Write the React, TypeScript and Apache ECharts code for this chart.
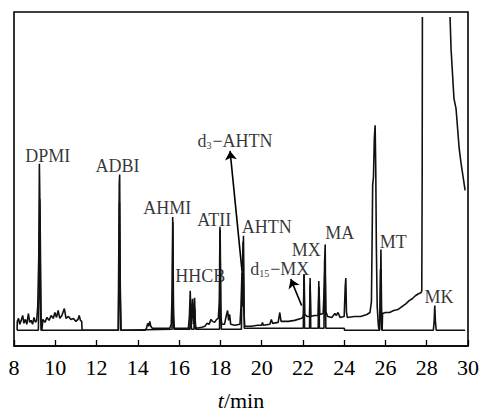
import React, { useEffect, useRef } from "react";
import * as echarts from "echarts";

// retention time (min) range and ticks
const X_MIN = 8;
const X_MAX = 30;
const X_STEP = 2;
const Y_MAX = 339;

// lower trace (standard), [t, response]
const traceA: [number, number][] = [
  [8.15, 16], [9.18, 16], [9.22, 60], [9.25, 149], [9.28, 60], [9.31, 16],
  [13.06, 16], [13.09, 80], [13.11, 146], [13.14, 60], [13.17, 16],
  [15.66, 17], [15.69, 131], [15.72, 40], [15.75, 17],
  [16.52, 17], [16.56, 40], [16.6, 17], [16.72, 17], [16.76, 38], [16.8, 17],
  [17.96, 17], [17.99, 118], [18.02, 40], [18.05, 17],
  [19.02, 17], [19.05, 74], [19.08, 40], [19.12, 112], [19.16, 18],
  [22.02, 18], [22.05, 73], [22.08, 18], [22.32, 18], [22.35, 69], [22.38, 18],
  [22.74, 18], [22.77, 66], [22.8, 18], [23.02, 18], [23.05, 85], [23.08, 103], [23.11, 18],
  [24.0, 18], [24.02, 16],
  [25.72, 16], [25.76, 78], [25.8, 30], [25.83, 16],
  [28.32, 16], [28.36, 25], [28.39, 41], [28.42, 25], [28.46, 16], [29.86, 16],
];

// upper trace (sample), [t, response]; null = off scale
const traceB: [number, number | null][] = [
  [8.15, 16], [8.16, 25], [8.22, 28], [8.28, 22], [8.35, 26], [8.42, 31], [8.48, 23], [8.55, 27],
  [8.62, 22], [8.7, 33], [8.76, 24], [8.83, 26], [8.9, 22], [8.97, 29], [9.04, 24], [9.1, 26],
  [9.15, 40], [9.2, 90], [9.23, 185], [9.27, 120], [9.31, 30], [9.35, 16],
  [9.38, 16], [9.4, 27], [9.5, 24], [9.6, 29], [9.7, 26], [9.8, 31], [9.9, 28], [9.98, 34],
  [10.06, 29], [10.14, 36], [10.22, 28], [10.32, 31], [10.44, 38], [10.52, 28], [10.64, 30],
  [10.76, 27], [10.88, 28], [11.0, 25], [11.1, 27], [11.16, 31], [11.22, 26], [11.28, 25], [11.3, 16],
  [12.5, 16], [13.05, 16], [13.08, 100], [13.1, 164], [13.12, 174], [13.15, 60], [13.19, 16],
  [14.35, 16], [14.42, 18], [14.48, 23], [14.53, 20], [14.58, 25], [14.63, 20], [14.7, 18],
  [15.55, 18], [15.62, 22], [15.67, 60], [15.7, 126], [15.73, 30], [15.77, 18],
  [16.45, 18], [16.5, 30], [16.54, 56], [16.58, 22], [16.62, 35], [16.65, 48], [16.69, 22],
  [16.72, 30], [16.75, 49], [16.79, 20], [16.85, 18],
  [17.1, 19], [17.25, 20], [17.35, 23], [17.45, 22], [17.55, 27], [17.62, 25], [17.72, 24],
  [17.82, 27], [17.9, 28], [17.95, 45], [17.98, 121], [18.02, 30], [18.07, 22],
  [18.2, 22], [18.28, 30], [18.35, 36], [18.4, 26], [18.45, 32], [18.5, 22], [18.7, 21],
  [18.95, 22], [19.0, 40], [19.04, 70], [19.07, 80], [19.1, 106], [19.13, 40], [19.18, 20],
  [19.5, 20], [19.8, 21], [20.0, 21], [20.04, 24], [20.08, 21], [20.4, 22], [20.47, 27],
  [20.53, 23], [20.8, 24], [20.88, 34], [20.94, 25], [21.3, 25], [21.6, 26], [21.9, 28], [22.0, 29],
  [22.03, 32], [22.06, 72], [22.09, 32], [22.2, 30], [22.32, 30], [22.35, 62], [22.38, 30],
  [22.55, 31], [22.74, 31], [22.78, 60], [22.82, 32], [22.98, 33], [23.04, 62], [23.07, 85],
  [23.11, 35], [23.2, 30], [23.4, 29], [23.55, 33], [23.62, 31], [23.7, 34], [23.8, 29],
  [24.0, 30], [24.05, 60], [24.08, 69], [24.11, 35], [24.15, 29], [24.5, 30], [24.8, 30],
  [25.1, 32], [25.25, 34], [25.32, 45], [25.36, 120], [25.38, 163], [25.42, 172], [25.46, 210],
  [25.5, 224], [25.53, 180], [25.56, 100], [25.6, 40], [25.66, 20], [25.7, 16], [25.75, 40],
  [25.78, 98], [25.81, 40], [25.84, 16], [25.86, 33],
  [26.0, 34], [26.2, 34], [26.4, 36], [26.6, 37], [26.8, 40], [27.0, 43], [27.15, 46],
  [27.3, 48], [27.45, 51], [27.6, 53], [27.72, 54], [27.76, 56], [27.78, 176], [27.79, 334],
  [27.8, null],
  [29.13, 334], [29.18, 301], [29.32, 251], [29.42, 241], [29.57, 201], [29.66, 186], [29.86, 158],
];

// peak annotations: text, t, response at label centre
const labelTexts = ["DPMI", "ADBI", "AHMI", "HHCB", "ATII", "AHTN", "{a|d}{s|3}{a|−AHTN}", "MX", "{a|d}{s|15}{a|−MX}", "MA", "MT", "MK"];
const labelT = [9.64, 13.02, 15.43, 17.02, 17.7, 20.25, 18.71, 22.16, 20.88, 23.78, 26.38, 28.6];
const labelV = [193, 183, 140, 71, 128, 121, 208, 97, 78, 115, 106, 50];

// arrows: [from, to] in [t, response]
const arrowLines: [number, number][][] = [
  [[19.05, 76], [18.47, 198]],
  [[21.94, 41], [21.41, 68]],
];
// thin leader line for MA
const leaderLines: [number, number][][] = [[[23.07, 103], [23.07, 85]]];

const SERIF = "'Liberation Serif', 'Times New Roman', serif";

export default function App() {
  const ref = useRef<HTMLDivElement>(null);
  useEffect(() => {
    if (!ref.current) return;
    const chart = echarts.init(ref.current, undefined, { renderer: "svg" });
    const labelData = labelTexts.map((txt, i) => ({
      value: [labelT[i], labelV[i]],
      label: { formatter: txt },
    }));
    chart.setOption({
      animation: false,
      grid: {
        left: 14,
        right: 12,
        top: 12,
        bottom: 65,
        show: true,
        borderColor: "#000",
        borderWidth: 1.6,
        backgroundColor: "transparent",
      },
      xAxis: {
        type: "value",
        min: X_MIN,
        max: X_MAX,
        interval: X_STEP,
        splitLine: { show: false },
        axisLine: { show: true, lineStyle: { color: "#000", width: 1.6 } },
        axisTick: { show: true, inside: true, length: 6, lineStyle: { color: "#000", width: 1.3 } },
        axisLabel: { color: "#000", fontSize: 22, fontFamily: SERIF, margin: 10 },
        name: "{i|t}{n|/min}",
        nameLocation: "middle",
        nameGap: 43,
        nameTextStyle: {
          rich: {
            i: { fontStyle: "italic", fontFamily: SERIF, fontSize: 22, color: "#000" },
            n: { fontFamily: SERIF, fontSize: 22, color: "#000" },
          },
        },
      },
      yAxis: {
        type: "value",
        min: 0,
        max: Y_MAX,
        show: false,
        splitLine: { show: false },
      },
      series: [
        {
          type: "line",
          data: traceA,
          showSymbol: false,
          symbol: "none",
          lineStyle: { color: "#111", width: 1.6 },
          clip: true,
        },
        {
          type: "line",
          data: traceB,
          showSymbol: false,
          symbol: "none",
          connectNulls: false,
          lineStyle: { color: "#111", width: 1.6 },
          clip: true,
        },
        {
          type: "lines",
          coordinateSystem: "cartesian2d",
          symbol: ["none", "arrow"],
          symbolSize: 9,
          lineStyle: { color: "#000", width: 1.6, opacity: 1 },
          data: arrowLines.map((c) => ({ coords: c })),
        },
        {
          type: "lines",
          coordinateSystem: "cartesian2d",
          symbol: ["none", "none"],
          lineStyle: { color: "#777", width: 0.8, opacity: 1 },
          data: leaderLines.map((c) => ({ coords: c })),
        },
        {
          type: "scatter",
          symbolSize: 0,
          data: labelData,
          label: {
            show: true,
            position: "inside",
            color: "#000",
            fontSize: 18,
            fontFamily: SERIF,
            rich: {
              a: { fontSize: 18, fontFamily: SERIF, color: "#000" },
              s: { fontSize: 10, fontFamily: SERIF, color: "#000", verticalAlign: "bottom", padding: [7, 1, 0, 0] },
            },
          },
        },
      ],
    });
    return () => chart.dispose();
  }, []);
  return <div ref={ref} style={{ width: 482, height: 416, position: "absolute", left: 0, top: 0 }} />;
}
